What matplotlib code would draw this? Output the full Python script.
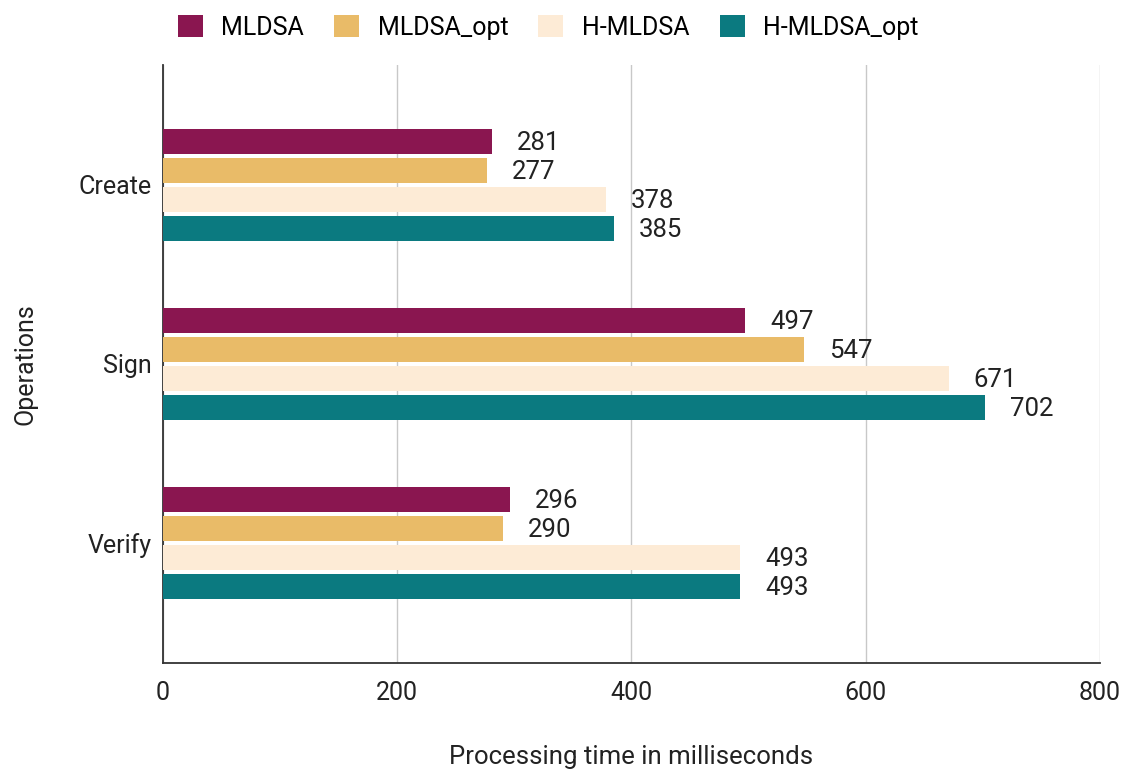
import numpy as np
import matplotlib.pyplot as plt
from matplotlib.patches import Patch

plt.rcParams['font.family'] = ['Roboto', 'DejaVu Sans']

operations = ['Create', 'Sign', 'Verify']
series_names = ['MLDSA', 'MLDSA_opt', 'H-MLDSA', 'H-MLDSA_opt']
mldsa = [281, 497, 296]
mldsa_opt = [277, 547, 290]
h_mldsa = [378, 671, 493]
h_mldsa_opt = [385, 702, 493]
x_ticks = [0, 200, 400, 600, 800]

colors = ['#8a1650', '#e9bb68', '#fdebd6', '#0b7a80']
series = [mldsa, mldsa_opt, h_mldsa, h_mldsa_opt]

fig = plt.figure(figsize=(11.24, 7.72), dpi=100)
ax = fig.add_axes([0.145, 0.141, 0.8335, 0.775])

y = np.arange(len(operations))
step = 0.162
height = 0.138
for i, (vals, col) in enumerate(zip(series, colors)):
    pos = y + (i - 1.5) * step
    ax.barh(pos, vals, height=height, color=col, zorder=3)
    for p, v in zip(pos, vals):
        ax.annotate(str(v), (v, p), xytext=(18, -1), textcoords='offset points',
                    ha='left', va='center', fontsize=18.5, color='#222222')

ax.set_ylim(2.67, -0.67)
ax.set_xlim(0, 800)
ax.set_xticks(x_ticks)
ax.set_yticks(y)
ax.set_yticklabels(operations)
ax.tick_params(axis='both', length=0, labelsize=18, colors='#222222')
ax.tick_params(axis='x', pad=13)
ax.tick_params(axis='y', pad=8)
ax.grid(axis='x', color='#c8c8c8', linewidth=1, zorder=0)
for s in ['top', 'right']:
    ax.spines[s].set_visible(False)
ax.spines['left'].set_color('#333333')
ax.spines['bottom'].set_color('#333333')
ax.spines['left'].set_linewidth(1.3)
ax.spines['bottom'].set_linewidth(1.3)

ax.set_xlabel('Processing time in milliseconds', fontsize=18.5, color='#222222', labelpad=29)
ax.set_ylabel('Operations', fontsize=18, color='#222222', labelpad=30)

handles = [Patch(facecolor=c, label=n) for c, n in zip(colors, series_names)]
fig.legend(handles=handles, loc='upper left', bbox_to_anchor=(0.138, 1.01), ncol=4,
           frameon=False, fontsize=18, handlelength=1.0, handleheight=1.0,
           columnspacing=1.2, handletextpad=0.75)

fig.savefig('out.png', dpi=100)
